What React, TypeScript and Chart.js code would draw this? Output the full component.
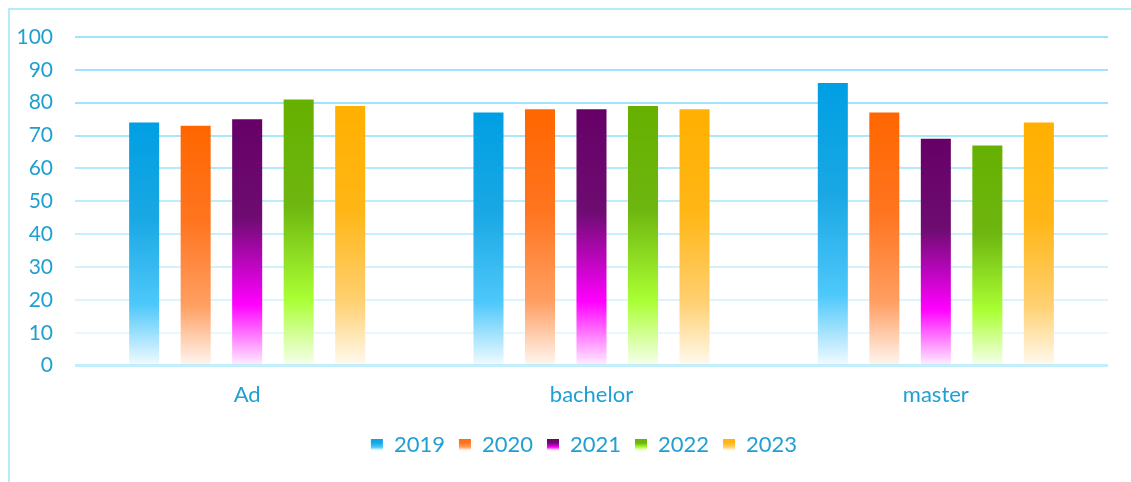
import React, { useEffect, useRef } from "react";
import { Chart, registerables } from "chart.js";

Chart.register(...registerables);

const categories = ["Ad", "bachelor", "master"];
const seriesNames = ["2019", "2020", "2021", "2022", "2023"];
const values2019 = [74, 77, 86];
const values2020 = [73, 78, 77];
const values2021 = [75, 78, 69];
const values2022 = [81, 79, 67];
const values2023 = [79, 78, 74];
const yTickMin = 0;
const yTickMax = 100;
const yTickStep = 10;

const seriesValues = [values2019, values2020, values2021, values2022, values2023];
// gradient stops: top, 40%, 75%, bottom
const seriesGradients = [
  ["#009fe3", "#1aa8e4", "#4ec8fb", "#f3fbff"],
  ["#ff6600", "#ff7520", "#ff9f62", "#fff7f2"],
  ["#660066", "#6e0c72", "#ff00ff", "#fff0ff"],
  ["#66b000", "#6eb610", "#aaff33", "#f7ffee"],
  ["#ffb000", "#ffb616", "#ffd070", "#fffaf0"],
];

const TEXT_COLOR = "#1f9fd3";
const FONT = "Lato";

function hexToRgb(h: string) {
  const n = parseInt(h.slice(1), 16);
  return [(n >> 16) & 255, (n >> 8) & 255, n & 255];
}
function mix(a: string, b: string, t: number) {
  const A = hexToRgb(a);
  const B = hexToRgb(b);
  const c = A.map((v, i) => Math.round(v + (B[i] - v) * t));
  return `rgb(${c[0]},${c[1]},${c[2]})`;
}

export default function App() {
  const canvasRef = useRef<HTMLCanvasElement | null>(null);

  useEffect(() => {
    if (!canvasRef.current) return;

    const legendGradientPlugin = {
      id: "legendGradient",
      afterLayout(chart: any) {
        const legend = chart.legend;
        if (!legend) return;
        legend.left += 25;
        legend.right += 25;
      },
      beforeDraw(chart: any) {
        const legend = chart.legend;
        if (!legend || !legend.legendItems) return;
        const cy = (legend.top + legend.bottom) / 2;
        legend.legendItems.forEach((item: any, i: number) => {
          const stops = seriesGradients[i];
          const g = chart.ctx.createLinearGradient(0, cy - 7, 0, cy + 7);
          g.addColorStop(0, stops[0]);
          g.addColorStop(0.5, stops[1]);
          g.addColorStop(0.8, stops[2]);
          g.addColorStop(1, stops[3]);
          item.fillStyle = g;
        });
      },
    };

    const datasets = seriesNames.map((name, i) => ({
      label: name,
      data: seriesValues[i],
      backgroundColor: (ctx: any) => {
        const stops = seriesGradients[i];
        const chart = ctx.chart;
        if (!chart.chartArea || ctx.type !== "data" || !chart.scales?.y) return stops[0];
        const yScale = chart.scales.y;
        const top = yScale.getPixelForValue(ctx.raw);
        const base = yScale.getPixelForValue(0);
        if (!isFinite(top) || !isFinite(base) || top === base) return stops[0];
        const g = chart.ctx.createLinearGradient(0, top, 0, base);
        g.addColorStop(0, stops[0]);
        g.addColorStop(0.4, stops[1]);
        g.addColorStop(0.75, stops[2]);
        g.addColorStop(1, stops[3]);
        return g;
      },
      borderWidth: 0,
      categoryPercentage: 0.748,
      barPercentage: 0.583,
    }));

    const chart = new Chart(canvasRef.current, {
      type: "bar",
      data: { labels: categories, datasets },
      options: {
        animation: false,
        responsive: true,
        maintainAspectRatio: false,
        layout: { padding: { left: 0, right: 23, top: 27, bottom: 16 } },
        plugins: {
          title: { display: false },
          tooltip: { enabled: false },
          legend: {
            position: "bottom",
            labels: {
              boxWidth: 12,
              boxHeight: 12,
              padding: 14,
              color: TEXT_COLOR,
              font: { family: FONT, size: 22 },
              generateLabels: (c: any) =>
                c.data.datasets.map((d: any, i: number) => ({
                  text: d.label,
                  fillStyle: seriesGradients[i][0],
                  strokeStyle: "rgba(0,0,0,0)",
                  lineWidth: 0,
                  hidden: false,
                  datasetIndex: i,
                  fontColor: TEXT_COLOR,
                })),
            },
          },
        },
        scales: {
          x: {
            grid: { display: false, drawTicks: false },
            border: { display: false },
            ticks: {
              color: TEXT_COLOR,
              font: { family: FONT, size: 22 },
              padding: 16,
            },
            afterFit: (axis: any) => {
              axis.height -= 4;
            },
          },
          y: {
            min: yTickMin,
            max: yTickMax,
            ticks: {
              stepSize: yTickStep,
              color: TEXT_COLOR,
              font: { family: FONT, size: 21 },
              padding: 22,
            },
            afterFit: (axis: any) => {
              axis.width = 65;
              axis.paddingTop = 0;
              axis.paddingBottom = 0;
            },
            border: { display: false },
            grid: {
              drawTicks: false,
              color: (ctx: any) => {
                const v = ctx.tick ? ctx.tick.value : 0;
                if (v === 0) return "#c3eefc";
                const t = Math.max(0, Math.min(1, (v - 10) / 70));
                return mix("#e6f7fd", "#9fe4fb", t);
              },
              lineWidth: (ctx: any) => (ctx.tick && ctx.tick.value === 0 ? 3 : 2),
            },
          },
        },
      },
      plugins: [legendGradientPlugin],
    });

    return () => chart.destroy();
  }, []);

  return (
    <div
      style={{
        position: "fixed",
        left: 8,
        top: 8,
        width: 1123,
        height: 474,
        boxSizing: "border-box",
        borderLeft: "2px solid #b6ebf9",
        borderTop: "2px solid #b6ebf9",
        background: "#ffffff",
      }}
    >
      <div style={{ position: "relative", width: 1121, height: 472 }}>
        <canvas ref={canvasRef} />
      </div>
    </div>
  );
}
